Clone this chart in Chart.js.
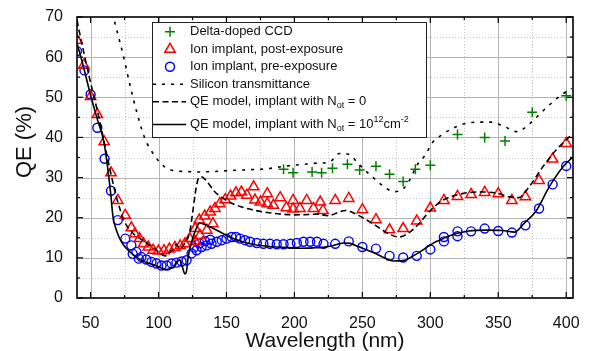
<!DOCTYPE html>
<html>
<head>
<meta charset="utf-8">
<script src="https://cdn.jsdelivr.net/npm/chart.js@4"></script>
<style>
  html, body { margin: 0; padding: 0; background: #fff; }
  #c { display: block; }
</style>
</head>
<body>
<canvas id="c" width="589" height="351"></canvas>
<script>
// axis ticks
const xMajor = [50, 100, 150, 200, 250, 300, 350, 400];
const xMinor = [75, 125, 175, 225, 275, 325, 375];
const yMajor = [0, 10, 20, 30, 40, 50, 60, 70];
const yMinor = [5, 15, 25, 35, 45, 55, 65];

// Delta-doped CCD
const ccdWl = [192, 199, 213, 220, 228, 239, 248, 260, 270, 280, 289, 300, 320, 340, 355, 375, 400];
const ccdQe = [32.1, 31.2, 31.4, 31.2, 32.3, 33.3, 31.9, 32.8, 30.8, 29.0, 32.1, 33.1, 40.7, 40.0, 39.1, 46.3, 50.4];

// Ion implant, post-exposure
const postWl = [40, 45, 50, 55, 60, 65, 70, 75.5, 80, 82.5, 86, 89, 92.5, 96, 100, 104, 108, 112, 116, 119.5,
  123, 127, 130, 134, 138, 141.5, 145, 149, 153, 157, 161, 165, 170, 171, 175, 180, 180, 184.5, 189.5, 194,
  199, 199, 204, 209, 214, 219, 221, 230, 240, 250, 260, 270, 280, 290, 300, 310, 320, 330, 340, 350,
  360, 370, 380, 390, 400, 127, 130.5, 135.5, 140];
const postQe = [64.2, 58.0, 50.2, 45.7, 38.9, 31.2, 24.3, 20.6, 17.5, 16.0, 14.8, 13.5, 12.7, 11.9, 11.7, 11.8, 12.2, 12.6, 13.0, 13.5,
  14.8, 17.3, 19.4, 20.4, 21.4, 22.3, 23.5, 24.5, 25.4, 26.2, 26.4, 25.6, 27.7, 24.4, 23.9, 26.0, 23.5, 23.1, 25.0, 22.5,
  24.3, 22.2, 22.3, 24.3, 22.3, 23.9, 21.8, 24.3, 24.8, 22.0, 19.5, 17.0, 17.3, 19.2, 22.4, 24.3, 25.3, 25.8, 26.3, 26.0,
  24.3, 25.2, 29.3, 34.6, 38.5, 14.0, 15.6, 16.9, 18.5];

// Ion implant, pre-exposure
const preWl = [40, 45.5, 50, 55, 60.3, 65, 70, 75.6, 80, 83.7, 87.4, 91, 94.8, 98.5, 102.2, 106, 109.6, 113.2, 117, 120.6,
  124.3, 128, 131.7, 135.4, 139, 142.8, 146.5, 150, 153.8, 157, 160, 163.7, 167.3, 172.3, 177.2, 182, 187, 192, 197, 201.8,
  206.7, 211.6, 216.6, 221.4, 230, 240, 250, 260, 270, 280, 290, 300, 310, 310, 320, 320, 330, 340, 350, 360,
  370, 380, 390, 400, 81, 85.5, 126, 130, 134, 138];
const preQe = [61.5, 56.7, 50.7, 42.4, 34.7, 26.7, 19.4, 14.8, 13.1, 11.5, 10.2, 9.6, 9.0, 8.6, 8.1, 8.1, 8.6, 8.8, 9.1, 9.4,
  11.1, 11.9, 12.7, 13.1, 13.5, 14.0, 14.4, 14.8, 15.2, 15.2, 14.8, 14.4, 14.0, 13.7, 13.5, 13.5, 13.4, 13.4, 13.5, 13.7,
  14.0, 14.0, 14.0, 13.5, 13.5, 14.1, 12.7, 12.3, 10.5, 10.1, 10.5, 12.1, 15.2, 14.1, 16.6, 15.4, 16.6, 17.3, 16.7, 16.3,
  18.1, 22.3, 28.3, 32.9, 11.0, 9.8, 12.6, 13.6, 14.2, 14.5];

// Silicon transmittance
const siWl = [66, 68, 74, 79, 84, 90, 97, 104, 110, 120, 130, 140, 155, 170, 180, 190, 200, 210, 217, 226,
  233, 240, 247, 252, 258, 263, 268, 274, 280, 285, 290, 296, 302, 308, 315, 325, 335, 345, 354, 364,
  370, 375, 386, 396, 404];
const siT = [71, 68.4, 60.5, 53.0, 46.3, 39.7, 35.5, 32.8, 31.8, 31.5, 31.4, 31.5, 31.8, 32.0, 32.2, 32.7, 33.1, 33.4, 33.6, 33.9,
  36.0, 35.8, 33.5, 31.8, 30.0, 28.5, 27.2, 26.5, 27.2, 29.5, 33.0, 35.5, 38.9, 40.5, 42.0, 43.4, 43.8, 43.8, 42.8, 41.4,
  42.5, 44.0, 47.6, 50.5, 52.2];

// QE model, N_ot = 0
const m0Wl = [40, 42, 49, 56.6, 62.8, 69, 75, 81, 90, 97, 105, 110, 113, 116, 119, 121, 123, 125, 127, 129,
  131.5, 135, 141, 150, 160, 170, 180, 190, 200, 210, 216, 225, 232, 237.5, 242, 247, 259.6, 269.4, 276.8, 284,
  291.6, 300, 309, 323.6, 336, 348, 358, 365, 372.7, 382.6, 392.4, 403.5];
const m0Qe = [69.2, 65.9, 55.1, 44.3, 34.3, 25.2, 19.0, 16.2, 14.0, 12.3, 10.5, 12.0, 13.3, 12.2, 13.5, 14.5, 16.5, 21.0, 26.0, 29.5,
  30.2, 29.3, 26.6, 24.3, 22.8, 21.9, 21.3, 20.9, 20.7, 20.8, 20.9, 20.5, 21.3, 21.8, 21.4, 20.6, 18.1, 16.0, 15.2, 16.2,
  18.5, 21.8, 24.3, 26.0, 26.4, 26.2, 25.2, 25.0, 27.7, 32.6, 36.8, 40.5];

// QE model, N_ot = 1e12 cm^-2
const m12Wl = [40, 45, 50, 55, 60, 62.8, 64.8, 66.5, 69, 72.7, 77.6, 83.7, 90, 95, 100, 105, 110.7, 113, 115.7, 117.5,
  119.4, 120.5, 121.8, 125.5, 128, 130.4, 135.4, 142.8, 155, 167.3, 179.7, 192, 204, 215, 221, 228, 236, 241, 247, 259,
  266, 273, 280, 290, 300, 304, 310, 318.6, 328.4, 340.8, 353, 362, 369, 377.7, 387.5, 397.4, 404.8];
const m12Qe = [63.5, 57.3, 50.5, 44.5, 38.5, 31.8, 26.0, 20.2, 16.9, 14.0, 11.9, 10.2, 9.0, 8.4, 7.8, 7.1, 7.7, 8.8, 9.4, 7.8,
  6.0, 6.5, 10.2, 15.2, 17.5, 18.7, 18.1, 16.9, 14.8, 13.5, 12.9, 12.6, 12.4, 12.5, 12.6, 13.0, 13.7, 13.6, 12.8, 11.2,
  10.0, 9.2, 9.3, 11.0, 13.2, 14.0, 14.9, 16.0, 16.7, 16.9, 16.8, 16.4, 18.6, 21.6, 27.7, 32.6, 35.1];

const FONT = "'Liberation Sans', Arial, sans-serif";
const RED = '#ff0000', BLUE = '#0000ff', GREEN = '#008000';
const DOT = [3, 6], DASH = [6, 3.5];

function pts(xs, ys) {
  return xs.map((v, i) => ({ x: v, y: ys[i] }));
}

function seg(ctx, x1, y1, x2, y2) {
  ctx.beginPath();
  ctx.moveTo(x1, y1);
  ctx.lineTo(x2, y2);
  ctx.stroke();
}

function marker(ctx, kind, x, y) {
  ctx.save();
  ctx.lineWidth = 1.5;
  ctx.beginPath();
  if (kind === 'plus') {
    ctx.strokeStyle = GREEN;
    ctx.moveTo(x - 5, y); ctx.lineTo(x + 5, y);
    ctx.moveTo(x, y - 5); ctx.lineTo(x, y + 5);
  } else if (kind === 'tri') {
    ctx.strokeStyle = RED;
    const r = 6;
    ctx.moveTo(x, y - r);
    ctx.lineTo(x + r * 0.866, y + r / 2);
    ctx.lineTo(x - r * 0.866, y + r / 2);
    ctx.closePath();
  } else {
    ctx.strokeStyle = BLUE;
    ctx.arc(x, y, 4.5, 0, Math.PI * 2);
  }
  ctx.stroke();
  ctx.restore();
}

// text with sub/superscripts: [[text, 'n'|'sub'|'sup'], ...]
function rich(ctx, x, y, parts) {
  parts.forEach(([t, m]) => {
    if (m === 'n') {
      ctx.font = '13px ' + FONT;
      ctx.fillText(t, x, y);
    } else {
      ctx.font = '9px ' + FONT;
      ctx.fillText(t, x, m === 'sub' ? y + 4 : y - 5);
    }
    x += ctx.measureText(t).width;
  });
}

const legendRows = [
  { sym: 'plus', y: 31.7, parts: [['Delta-doped CCD', 'n']] },
  { sym: 'tri', y: 49.3, parts: [['Ion implant, post-exposure', 'n']] },
  { sym: 'circ', y: 66.7, parts: [['Ion implant, pre-exposure', 'n']] },
  { sym: DOT, y: 84.3, parts: [['Silicon transmittance', 'n']] },
  { sym: DASH, y: 101.7, parts: [['QE model, implant with N', 'n'], ['ot', 'sub'], [' = 0', 'n']] },
  { sym: [], y: 124.5, parts: [['QE model, implant with N', 'n'], ['ot', 'sub'], [' = 10', 'n'], ['12', 'sup'], ['cm', 'n'], ['-2', 'sup']] },
];

const decor = {
  id: 'decor',
  beforeDatasetsDraw(chart) {
    const { ctx, chartArea: a, scales: { x, y } } = chart;
    ctx.save();
    ctx.lineWidth = 1;
    ctx.strokeStyle = '#c4c4c4';
    ctx.setLineDash([1, 2]);
    xMinor.forEach(v => { const p = Math.round(x.getPixelForValue(v)) + 0.5; seg(ctx, p, a.top, p, a.bottom); });
    yMinor.forEach(v => { const p = Math.round(y.getPixelForValue(v)) + 0.5; seg(ctx, a.left, p, a.right, p); });
    ctx.setLineDash([]);
    ctx.strokeStyle = '#b4b4b4';
    xMajor.forEach(v => { const p = Math.round(x.getPixelForValue(v)) + 0.5; seg(ctx, p, a.top, p, a.bottom); });
    yMajor.slice(1, -1).forEach(v => { const p = Math.round(y.getPixelForValue(v)) + 0.5; seg(ctx, a.left, p, a.right, p); });
    ctx.restore();
  },
  afterDatasetsDraw(chart) {
    const { ctx, chartArea: a, scales: { x, y } } = chart;
    ctx.save();
    ctx.strokeStyle = '#000';
    ctx.lineWidth = 1.2;
    const tick = (vals, len) => {
      vals.forEach(v => {
        const px = x.getPixelForValue(v);
        seg(ctx, px, a.bottom, px, a.bottom - len);
        seg(ctx, px, a.top, px, a.top + len);
      });
    };
    const ytick = (vals, len) => {
      vals.forEach(v => {
        const py = y.getPixelForValue(v);
        seg(ctx, a.left, py, a.left + len, py);
        seg(ctx, a.right, py, a.right - len, py);
      });
    };
    tick(xMajor, 6); tick(xMinor, 3);
    ytick(yMajor, 6); ytick(yMinor, 3);
    ctx.lineWidth = 1.6;
    ctx.strokeRect(a.left, a.top, a.right - a.left, a.bottom - a.top);
    ctx.restore();
  },
  afterDraw(chart) {
    const { ctx, chartArea: a } = chart;
    ctx.save();
    // legend
    ctx.fillStyle = '#fff';
    ctx.fillRect(152, 22, 274, 115);
    ctx.strokeStyle = '#222';
    ctx.lineWidth = 1;
    ctx.strokeRect(152.5, 22.5, 274, 115);
    legendRows.forEach(r => {
      if (typeof r.sym === 'string') {
        marker(ctx, r.sym, 170, r.y);
      } else {
        ctx.strokeStyle = '#000';
        ctx.lineWidth = 1.6;
        ctx.setLineDash(r.sym);
        seg(ctx, 153, r.y, 186, r.y);
        ctx.setLineDash([]);
      }
      ctx.fillStyle = '#111';
      ctx.textBaseline = 'middle';
      ctx.textAlign = 'left';
      rich(ctx, 190, r.y, r.parts);
    });
    // axis titles
    ctx.fillStyle = '#111';
    ctx.textBaseline = 'alphabetic';
    ctx.textAlign = 'center';
    ctx.font = '21px ' + FONT;
    ctx.fillText('Wavelength (nm)', (a.left + a.right) / 2, 347);
    ctx.translate(31, 142);
    ctx.rotate(-Math.PI / 2);
    ctx.font = '22px ' + FONT;
    ctx.fillText('QE (%)', 0, 0);
    ctx.restore();
  }
};

const lineDs = (label, xs, ys, dash) => ({
  label, data: pts(xs, ys), showLine: true, pointRadius: 0, borderColor: '#000',
  borderWidth: 1.6, borderDash: dash, cubicInterpolationMode: 'monotone', fill: false
});

new Chart(document.getElementById('c'), {
  type: 'scatter',
  data: {
    datasets: [
      lineDs('QE model, implant with N_ot = 10^12 cm^-2', m12Wl, m12Qe, []),
      lineDs('QE model, implant with N_ot = 0', m0Wl, m0Qe, DASH),
      lineDs('Silicon transmittance', siWl, siT, DOT),
      { label: 'Delta-doped CCD', data: pts(ccdWl, ccdQe), pointStyle: 'cross', pointRadius: 5,
        borderColor: GREEN, backgroundColor: GREEN, pointBorderWidth: 1.5 },
      { label: 'Ion implant, post-exposure', data: pts(postWl, postQe), pointStyle: 'triangle', pointRadius: 6,
        borderColor: RED, backgroundColor: 'rgba(0,0,0,0)', pointBorderWidth: 1.5 },
      { label: 'Ion implant, pre-exposure', data: pts(preWl, preQe), pointStyle: 'circle', pointRadius: 4.5,
        borderColor: BLUE, backgroundColor: 'rgba(0,0,0,0)', pointBorderWidth: 1.4 },
    ]
  },
  options: {
    responsive: false,
    animation: false,
    devicePixelRatio: 1,
    layout: { padding: { left: 0, top: 17, right: 16, bottom: 0 } },
    plugins: { legend: { display: false }, tooltip: { enabled: false } },
    scales: {
      x: {
        type: 'linear', min: 40, max: 405,
        afterBuildTicks: s => { s.ticks = xMajor.map(v => ({ value: v })); },
        afterFit: s => { s.height = 53; },
        grid: { display: false }, border: { display: false },
        ticks: { font: { family: FONT, size: 16 }, color: '#111', padding: 8, maxRotation: 0 }
      },
      y: {
        type: 'linear', min: 0, max: 70,
        afterBuildTicks: s => { s.ticks = yMajor.map(v => ({ value: v })); },
        afterFit: s => { s.width = 77; },
        grid: { display: false }, border: { display: false },
        ticks: { font: { family: FONT, size: 16 }, color: '#111', padding: 6 }
      }
    }
  },
  plugins: [decor]
});
</script>
</body>
</html>
